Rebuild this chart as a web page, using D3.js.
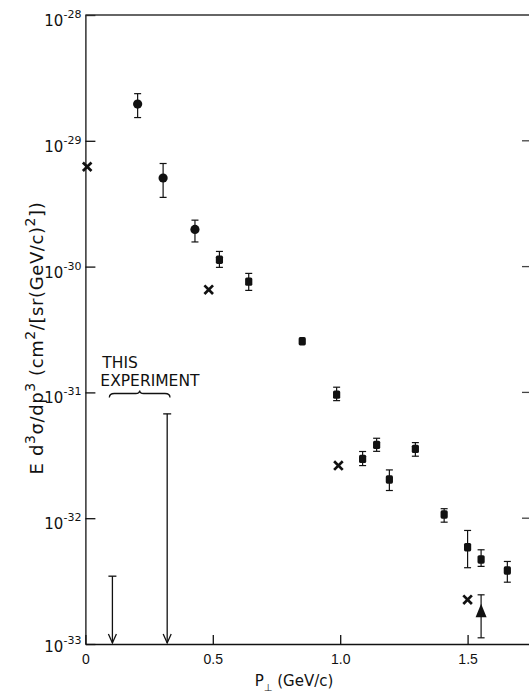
<!DOCTYPE html>
<html>
<head>
<meta charset="utf-8">
<script src="https://cdn.jsdelivr.net/npm/d3@7"></script>
<style>
  body { margin: 0; background: #fff; }
  svg { display: block; font-family: "DejaVu Sans", sans-serif; }
  .axis path, .axis line { stroke: #111; stroke-width: 1.3; }
  .err { stroke: #111; stroke-width: 1.2; }
</style>
</head>
<body>
<div id="chart"></div>
<script>
// filled circles
const circleP = [0.205, 0.305, 0.43];
const circleVal = [1.96e-29, 5.06e-30, 1.975e-30];
const circleHi = [2.37e-29, 6.6e-30, 2.34e-30];
const circleLo = [1.53e-29, 3.55e-30, 1.57e-30];

// filled squares
const squareP = [0.526, 0.641, 0.851, 0.986, 1.088, 1.143, 1.193, 1.295, 1.408, 1.5, 1.553, 1.656];
const squareVal = [1.134e-30, 7.59e-31, 2.55e-31, 9.6e-32, 2.96e-32, 3.83e-32, 2.03e-32, 3.56e-32, 1.07e-32, 5.88e-33, 4.7e-33, 3.84e-33];
const squareHi = [1.32e-30, 8.83e-31, null, 1.1e-31, 3.39e-32, 4.32e-32, 2.42e-32, 3.99e-32, 1.19e-32, 7.99e-33, 5.61e-33, 4.53e-33];
const squareLo = [9.86e-31, 6.47e-31, null, 8.6e-32, 2.62e-32, 3.4e-32, 1.66e-32, 3.11e-32, 9.3e-33, 4.04e-33, 4.14e-33, 3.1e-33];

// crosses
const crossP = [0.007, 0.484, 0.993, 1.5];
const crossVal = [6.22e-30, 6.55e-31, 2.62e-32, 2.25e-33];

// triangle
const triP = [1.553];
const triVal = [1.82e-33];
const triHi = [2.46e-33];
const triLo = [1.12e-33];

// upper limits (this experiment)
const limitP = [0.106, 0.321];
const limitVal = [3.46e-33, 6.75e-32];
const braceRange = [0.094, 0.332];
const braceVal = 9.8e-32;

const xTicks = [0, 0.5, 1.0, 1.5];
const xTickLabels = ["0", "0.5", "1.0", "1.5"];
const yTicks = [1e-28, 1e-29, 1e-30, 1e-31, 1e-32, 1e-33];
const yTickExp = ["-28", "-29", "-30", "-31", "-32", "-33"];

const width = 529, height = 694;

const x = d3.scaleLinear().domain([0, 1.741]).range([85.4, 529]);
const y = d3.scaleLog().domain([1e-33, 1e-28]).range([644, 15]);

const svg = d3.select("#chart").append("svg")
  .attr("width", width)
  .attr("height", height);

// axes
svg.append("g")
  .attr("class", "axis")
  .attr("transform", `translate(0,${y.range()[0]})`)
  .call(d3.axisBottom(x).tickValues(xTicks).tickSize(-9).tickSizeOuter(0)
    .tickPadding(10).tickFormat((d, i) => xTickLabels[i]))
  .call(g => g.selectAll("text").attr("font-size", 14).attr("fill", "#111"));

svg.append("g")
  .attr("class", "axis")
  .attr("transform", `translate(${x.range()[0]},0)`)
  .call(d3.axisLeft(y).tickValues(yTicks).tickSize(-10).tickSizeOuter(0).tickFormat(""));

// top border and right-hand ticks
svg.append("line")
  .attr("x1", x.range()[0]).attr("x2", x.range()[1])
  .attr("y1", y.range()[1]).attr("y2", y.range()[1])
  .attr("stroke", "#333").attr("stroke-width", 1.6);

svg.append("g").selectAll("line")
  .data(yTicks.slice(1, 5))
  .join("line")
  .attr("x1", x.range()[1] - 7).attr("x2", x.range()[1])
  .attr("y1", d => y(d)).attr("y2", d => y(d))
  .attr("stroke", "#444").attr("stroke-width", 1.3);

// y tick labels 10^n
const yLab = svg.append("g").selectAll("text")
  .data(yTicks)
  .join("text")
  .attr("x", x.range()[0] - 4)
  .attr("y", d => y(d) + (d === 1e-33 ? 8 : 11))
  .attr("text-anchor", "end")
  .attr("fill", "#111")
  .attr("font-size", 15);
yLab.append("tspan").text("10");
yLab.append("tspan")
  .attr("font-size", 11)
  .attr("dy", -8)
  .text((d, i) => yTickExp[i]);

// axis titles
const yTitle = svg.append("text")
  .attr("transform", "translate(43,338) rotate(-90)")
  .attr("text-anchor", "middle")
  .attr("font-size", 18)
  .attr("letter-spacing", 0.6)
  .attr("fill", "#111");
yTitle.append("tspan").text("E d");
yTitle.append("tspan").attr("dy", -8).attr("font-size", 14).text("3");
yTitle.append("tspan").attr("dy", 8).text("σ/dp");
yTitle.append("tspan").attr("dy", -8).attr("font-size", 14).text("3");
yTitle.append("tspan").attr("dy", 8).text(" (cm");
yTitle.append("tspan").attr("dy", -8).attr("font-size", 14).text("2");
yTitle.append("tspan").attr("dy", 8).text("/[sr(GeV/c)");
yTitle.append("tspan").attr("dy", -8).attr("font-size", 14).text("2");
yTitle.append("tspan").attr("dy", 8).text("])");

const xTitle = svg.append("text")
  .attr("x", 294).attr("y", 686)
  .attr("text-anchor", "middle")
  .attr("font-size", 15)
  .attr("fill", "#111");
xTitle.append("tspan").text("P");
xTitle.append("tspan").attr("dy", 5).attr("font-size", 10).text("⊥");
xTitle.append("tspan").attr("dy", -5).text("  (GeV/c)");

// error bars
function errorBars(ps, his, los, cap) {
  const data = ps.map((p, i) => ({ p, hi: his[i], lo: los[i] })).filter(d => d.hi != null);
  const g = svg.append("g").attr("class", "err");
  g.selectAll(".v").data(data).join("line")
    .attr("x1", d => x(d.p)).attr("x2", d => x(d.p))
    .attr("y1", d => y(d.hi)).attr("y2", d => y(d.lo));
  for (const key of ["hi", "lo"]) {
    g.selectAll(".c" + key).data(data).join("line")
      .attr("x1", d => x(d.p) - cap).attr("x2", d => x(d.p) + cap)
      .attr("y1", d => y(d[key])).attr("y2", d => y(d[key]));
  }
}
errorBars(circleP, circleHi, circleLo, 3.5);
errorBars(squareP, squareHi, squareLo, 3.5);
errorBars(triP, triHi, triLo, 3.5);

// markers
svg.append("g").selectAll("circle")
  .data(circleP)
  .join("circle")
  .attr("cx", d => x(d))
  .attr("cy", (d, i) => y(circleVal[i]))
  .attr("r", 4.6)
  .attr("fill", "#111");

svg.append("g").selectAll("rect")
  .data(squareP)
  .join("rect")
  .attr("x", d => x(d) - 3.6)
  .attr("y", (d, i) => y(squareVal[i]) - 4.2)
  .attr("width", 7.2).attr("height", 8.4)
  .attr("rx", 1.6)
  .attr("fill", "#111");

svg.append("g").selectAll("path")
  .data(crossP)
  .join("path")
  .attr("transform", (d, i) => `translate(${x(d)},${y(crossVal[i])})`)
  .attr("d", "M-4.3,-4.3L4.3,4.3M-4.3,4.3L4.3,-4.3")
  .attr("stroke", "#111")
  .attr("stroke-width", 2.7);

svg.append("g").selectAll("path")
  .data(triP)
  .join("path")
  .attr("transform", (d, i) => `translate(${x(d)},${y(triVal[i])})`)
  .attr("d", "M0,-7.5L5.5,6L-5.5,6Z")
  .attr("fill", "#111");

// upper limits with arrows
const lim = svg.append("g").attr("stroke", "#111").attr("fill", "none");
lim.selectAll(".stem").data(limitP).join("line")
  .attr("x1", d => x(d)).attr("x2", d => x(d))
  .attr("y1", (d, i) => y(limitVal[i])).attr("y2", y.range()[0] - 1)
  .attr("stroke-width", 1.3);
lim.selectAll(".cap").data(limitP).join("line")
  .attr("x1", d => x(d) - 4).attr("x2", d => x(d) + 4)
  .attr("y1", (d, i) => y(limitVal[i])).attr("y2", (d, i) => y(limitVal[i]))
  .attr("stroke-width", 1.3);
lim.selectAll(".head").data(limitP).join("path")
  .attr("transform", d => `translate(${x(d)},${y.range()[0] - 1})`)
  .attr("d", "M-4,-9L0,0L4,-9")
  .attr("stroke-width", 1.3);

// brace and label
const bx1 = x(braceRange[0]), bx2 = x(braceRange[1]);
const bxm = (bx1 + bx2) / 2, by = y(braceVal);
svg.append("path")
  .attr("d", `M${bx1},${by + 4} Q${bx1},${by} ${bx1 + 5},${by} L${bxm - 4},${by}` +
    ` Q${bxm},${by} ${bxm},${by - 3} Q${bxm},${by} ${bxm + 4},${by}` +
    ` L${bx2 - 5},${by} Q${bx2},${by} ${bx2},${by + 4}`)
  .attr("fill", "none")
  .attr("stroke", "#111")
  .attr("stroke-width", 1.3);

svg.append("text")
  .attr("x", bx1 - 7).attr("y", by - 26)
  .attr("font-size", 15.5).attr("fill", "#111")
  .text("THIS");
svg.append("text")
  .attr("x", bx1 - 9).attr("y", by - 8)
  .attr("font-size", 15.5).attr("fill", "#111")
  .text("EXPERIMENT");
</script>
</body>
</html>
